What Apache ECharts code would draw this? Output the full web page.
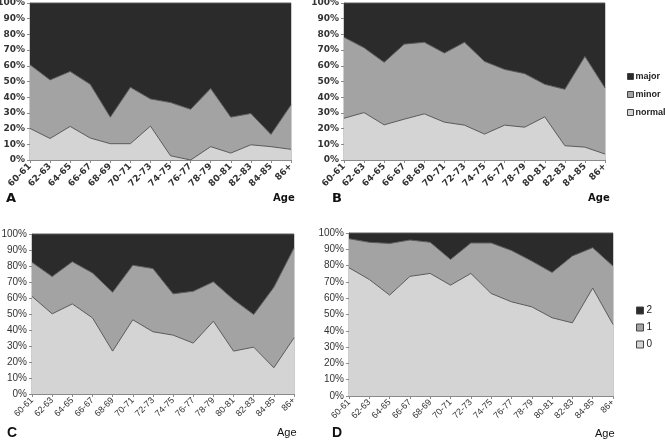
<!DOCTYPE html>
<html>
<head>
<meta charset="utf-8">
<script src="https://cdn.jsdelivr.net/npm/echarts@6/dist/echarts.min.js"></script>
<style>html,body{margin:0;padding:0;background:#fff}#c{width:665px;height:440px}</style>
</head>
<body>
<div id="c"></div>
<script>
// Categories (age groups)
const ageGroups = ['60-61','62-63','64-65','66-67','68-69','70-71','72-73','74-75','76-77','78-79','80-81','82-83','84-85','86+'];

// Panel A (percent of each group)
const aNormal = [20.1, 13.7, 21.4, 14.0, 10.4, 10.4, 21.6, 2.7, 0.0, 8.5, 4.4, 9.7, 8.5, 6.8];
const aMinor  = [40.6, 37.3, 35.0, 34.2, 16.9, 35.9, 17.3, 33.9, 32.3, 37.0, 22.9, 19.9, 7.8, 28.3];
const aMajor  = [39.3, 49.0, 43.6, 51.8, 72.7, 53.7, 61.1, 63.4, 67.7, 54.5, 72.7, 70.4, 83.7, 64.9];

// Panel B
const bNormal = [26.6, 30.2, 22.4, 26.0, 29.4, 24.1, 22.2, 16.5, 22.2, 20.9, 27.5, 9.1, 8.2, 3.8];
const bMinor  = [51.6, 41.3, 39.8, 47.8, 45.6, 44.0, 52.8, 46.3, 35.5, 34.1, 20.7, 35.9, 57.8, 42.1];
const bMajor  = [21.8, 28.5, 37.8, 26.2, 25.0, 31.9, 25.0, 37.2, 42.3, 45.0, 51.8, 55.0, 34.0, 54.1];

// Panel C
const cZero = [61.0, 50.1, 56.3, 47.6, 26.8, 46.4, 38.9, 36.8, 31.8, 45.5, 26.8, 29.3, 16.4, 35.1];
const cOne  = [21.3, 23.3, 26.4, 28.1, 36.8, 34.1, 39.5, 25.8, 32.4, 24.6, 32.2, 20.4, 50.3, 56.2];
const cTwo  = [17.7, 26.6, 17.3, 24.3, 36.4, 19.5, 21.6, 37.4, 35.8, 29.9, 41.0, 50.3, 33.3, 8.7];

// Panel D
const dZero = [78.7, 71.5, 61.9, 73.4, 75.2, 68.0, 75.2, 62.9, 57.8, 54.7, 48.0, 44.9, 66.2, 43.9];
const dOne  = [17.8, 22.8, 31.7, 22.3, 19.1, 15.8, 18.7, 31.0, 31.5, 28.1, 27.8, 41.0, 24.8, 35.8];
const dTwo  = [3.5, 5.7, 6.4, 4.3, 5.7, 16.2, 6.1, 6.1, 10.7, 17.2, 24.2, 14.1, 9.0, 20.3];

const seriesNamesAB = ['major','minor','normal'];
const seriesNamesCD = ['2','1','0'];
const panelLetters = ['A','B','C','D'];
const xAxisTitle = 'Age';

const COL_DARK = '#2b2b2b', COL_MID = '#a3a3a3', COL_LIGHT = '#d4d4d4';

const fontAB = 'DejaVu Sans';
const fontCD = 'Liberation Sans';

const grids = [
  {left: 30, top: 3, width: 261, height: 157},
  {left: 344, top: 3, width: 261, height: 157},
  {left: 32, top: 234, width: 262, height: 160},
  {left: 349, top: 233, width: 264, height: 163}
];

const chart = echarts.init(document.getElementById('c'), null, {renderer: 'canvas'});

const panels = [
  {names: seriesNamesAB, data: [aNormal, aMinor, aMajor], font: fontAB, bold: 'bold', size: 9},
  {names: seriesNamesAB, data: [bNormal, bMinor, bMajor], font: fontAB, bold: 'bold', size: 9},
  {names: seriesNamesCD, data: [cZero, cOne, cTwo], font: fontCD, bold: 'normal', size: 10},
  {names: seriesNamesCD, data: [dZero, dOne, dTwo], font: fontCD, bold: 'normal', size: 10}
];

const gridOpts = grids.map(g => Object.assign({show: true, borderColor: '#9a9a9a', borderWidth: 1, backgroundColor: 'transparent', outerBoundsMode: 'none'}, g));

const xAxes = panels.map((p, i) => ({
  type: 'category', gridIndex: i, data: ageGroups, boundaryGap: false,
  axisLine: {lineStyle: {color: '#8a8a8a', width: 1}},
  axisTick: {show: true, length: 3, lineStyle: {color: '#8a8a8a'}},
  axisLabel: {rotate: 45, fontSize: 9, color: '#333', fontFamily: p.font, fontWeight: p.bold, margin: 5, interval: 0}
}));

const yAxes = panels.map((p, i) => ({
  type: 'value', gridIndex: i, min: 0, max: 100, interval: 10,
  splitLine: {show: false},
  axisLine: {show: true, lineStyle: {color: '#8a8a8a', width: 1}},
  axisTick: {show: true, length: 3, lineStyle: {color: '#8a8a8a'}},
  axisLabel: {fontSize: p.size, color: '#333', fontFamily: p.font, fontWeight: p.bold, margin: 5, formatter: '{value}%'}
}));

const cols = [COL_LIGHT, COL_MID, COL_DARK];
const series = [];
panels.forEach((p, i) => {
  [0, 1, 2].forEach(k => {
    series.push({
      name: p.names[2 - k],
      type: 'line', xAxisIndex: i, yAxisIndex: i,
      stack: 'p' + i, symbol: 'none', silent: true,
      data: p.data[k],
      color: cols[k],
      itemStyle: {color: cols[k]},
      lineStyle: {color: '#5a5a5a', width: 1},
      areaStyle: {color: cols[k], opacity: 1},
      z: 2
    });
  });
});

const tAB = {fontWeight: 'bold', color: '#111', fontFamily: fontAB};
const tCD = {fontWeight: 'normal', color: '#111', fontFamily: fontCD};
const titles = [
  {text: panelLetters[0], left: 6, top: 192, padding: 0, textStyle: Object.assign({fontSize: 13}, tAB)},
  {text: panelLetters[1], left: 332, top: 192, padding: 0, textStyle: Object.assign({fontSize: 13}, tAB)},
  {text: panelLetters[2], left: 7, top: 426, padding: 0, textStyle: Object.assign({fontSize: 14}, tCD, {fontWeight: 'bold'})},
  {text: panelLetters[3], left: 332, top: 426, padding: 0, textStyle: Object.assign({fontSize: 14}, tCD, {fontWeight: 'bold'})},
  {text: xAxisTitle, left: 273, top: 193, padding: 0, textStyle: Object.assign({fontSize: 10}, tAB)},
  {text: xAxisTitle, left: 588, top: 193, padding: 0, textStyle: Object.assign({fontSize: 10}, tAB)},
  {text: xAxisTitle, left: 277, top: 427, padding: 0, textStyle: Object.assign({fontSize: 11}, tCD)},
  {text: xAxisTitle, left: 595, top: 428, padding: 0, textStyle: Object.assign({fontSize: 11}, tCD)}
];

const legendBase = {
  orient: 'vertical', icon: 'rect', itemWidth: 6, itemHeight: 6,
  selectedMode: false, padding: 0,
  itemStyle: {borderColor: '#444', borderWidth: 1}
};

const legends = [
  Object.assign({}, legendBase, {data: seriesNamesAB, left: 627, top: 71, itemGap: 7,
    textStyle: {fontSize: 9, lineHeight: 11, fontWeight: 'bold', color: '#222', fontFamily: 'Liberation Sans', padding: [0, 0, 0, -3]}}),
  Object.assign({}, legendBase, {data: seriesNamesCD, left: 636, top: 305, itemGap: 6, itemWidth: 7, itemHeight: 7,
    textStyle: {fontSize: 10, lineHeight: 11, color: '#222', fontFamily: fontCD, padding: [0, 0, 0, -2]}})
];

chart.setOption({
  animation: false,
  backgroundColor: '#fff',
  title: titles,
  legend: legends,
  grid: gridOpts,
  xAxis: xAxes,
  yAxis: yAxes,
  series: series
});
</script>
</body>
</html>
